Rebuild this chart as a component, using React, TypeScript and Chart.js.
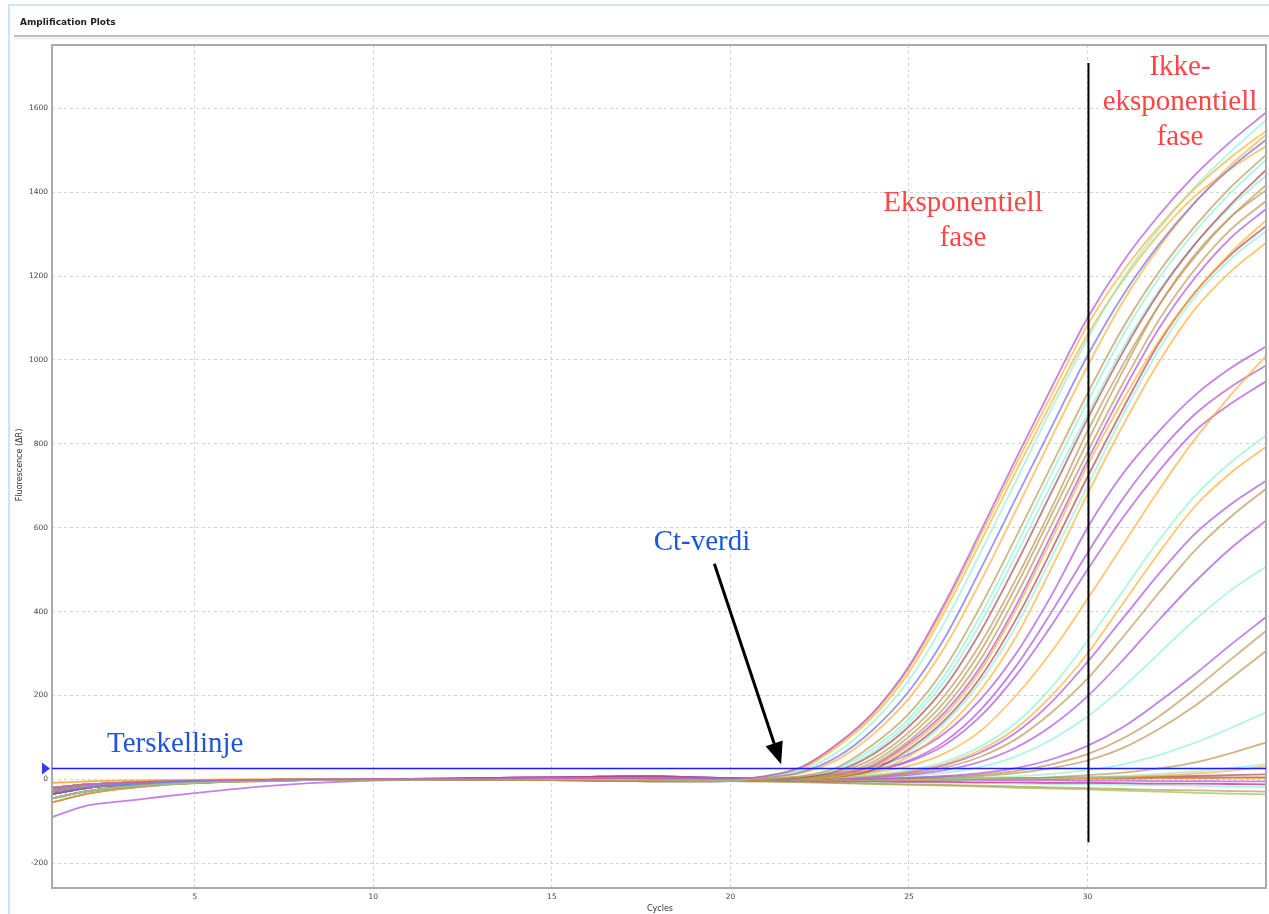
import React, { useEffect, useRef } from "react";
import { Chart, registerables } from "chart.js";

Chart.register(...registerables);

// ---------- data ----------
const cycles = [1, 2, 3, 4, 5, 6, 7, 8, 9, 10, 11, 12, 13, 14, 15, 16, 17, 18, 19, 20, 21, 22, 23, 24, 25, 26, 27, 28, 29, 30, 31, 32, 33, 34, 35];
const xTicks = [5, 10, 15, 20, 25, 30];
const yTicks = [-200, 0, 200, 400, 600, 800, 1000, 1200, 1400, 1600];
const threshold = 28;
const phaseLineCycle = 30;

// baselines, cycles 1-20
const baseA = [-30, -18, -12, -8, -5, -3, -2, -1, 0, 0, 0, 0, 1, 1, 2, 2, 2, 1, 1, 0];
const baseB = [-20, -12, -8, -5, -3, -2, -1, 0, 0, 1, 1, 1, 1, 2, 3, 3, 3, 2, 2, 1];
const baseC = [-45, -28, -18, -12, -8, -5, -3, -2, -1, 0, 0, 0, 0, 0, 1, 1, 0, 0, -1, -2];
const baseD = [-35, -20, -13, -9, -6, -4, -2, -1, 0, 0, 1, 2, 3, 4, 5, 6, 7, 7, 5, 3];
const baseE = [-90, -62, -52, -42, -33, -24, -16, -10, -6, -3, -1, 0, 0, 1, 1, 2, 2, 2, 1, 1];
const baseF = [-25, -15, -10, -6, -4, -2, -1, 0, 0, 0, 0, -1, -1, -2, -2, -3, -4, -5, -5, -4];
const baseG = [-8, -5, -3, -2, -1, 0, 0, 0, 0, 0, 1, 1, 1, 1, 1, 1, 1, 0, 0, 0];
const baseH = [-55, -34, -22, -14, -9, -6, -4, -2, -1, 0, 0, 0, 0, 0, 0, 0, -1, -2, -3, -4];

// amplification, cycles 21-35 — early group
const top01 = [8, 30, 85, 160, 270, 420, 590, 765, 935, 1100, 1235, 1345, 1440, 1520, 1590];
const top02 = [8, 29, 83, 157, 265, 412, 580, 752, 918, 1083, 1212, 1318, 1408, 1482, 1546];
const top03 = [6, 22, 65, 137, 237, 375, 540, 712, 885, 1050, 1195, 1312, 1412, 1496, 1572];
const top04 = [5, 18, 54, 119, 210, 337, 500, 671, 841, 1010, 1155, 1275, 1375, 1457, 1525];
const top05 = [4, 15, 47, 108, 193, 315, 471, 642, 816, 985, 1140, 1268, 1374, 1464, 1537];
const top06 = [2, 8, 29, 83, 157, 265, 412, 578, 750, 920, 1078, 1210, 1318, 1411, 1489];
const top07 = [2, 7, 26, 74, 145, 248, 390, 556, 730, 900, 1060, 1195, 1305, 1398, 1477];
const top08 = [1, 5, 20, 60, 126, 220, 352, 513, 686, 859, 1020, 1160, 1275, 1370, 1453];
const top09 = [1, 4, 16, 50, 112, 200, 323, 478, 648, 830, 990, 1130, 1245, 1340, 1417];
const top10 = [0, 3, 12, 42, 102, 185, 305, 460, 632, 805, 975, 1130, 1250, 1340, 1405];
const top11 = [0, 2, 10, 36, 92, 171, 285, 437, 608, 780, 945, 1095, 1215, 1310, 1379];
const top12 = [0, 2, 7, 28, 80, 152, 259, 405, 573, 748, 905, 1045, 1160, 1255, 1333];
const top13 = [0, 1, 6, 23, 72, 141, 243, 382, 548, 721, 885, 1040, 1160, 1250, 1319];
const top14 = [0, 1, 5, 20, 66, 135, 232, 366, 530, 700, 870, 1025, 1150, 1240, 1307];
const top15 = [0, 1, 5, 18, 55, 120, 212, 340, 505, 680, 845, 995, 1120, 1210, 1279];
const top16 = [7, 26, 78, 150, 255, 400, 565, 735, 900, 1060, 1190, 1300, 1390, 1455, 1510];
const top17 = [2, 6, 22, 66, 136, 235, 372, 535, 705, 870, 1030, 1165, 1275, 1365, 1440];
const top18 = [0, 2, 9, 32, 86, 160, 268, 415, 585, 760, 925, 1075, 1195, 1290, 1360];

// later group
const midA = [2, 6, 14, 30, 60, 110, 190, 300, 440, 600, 730, 830, 915, 980, 1032];
const midB = [1, 3, 8, 16, 32, 62, 115, 200, 305, 430, 560, 690, 810, 915, 1010];
const midC = [1, 4, 10, 22, 45, 90, 165, 270, 400, 540, 670, 780, 870, 935, 987];
const midD = [1, 3, 9, 20, 42, 82, 150, 248, 368, 500, 625, 735, 830, 895, 949];
const midE = [0, 2, 5, 11, 22, 42, 78, 135, 220, 330, 450, 570, 675, 755, 820];
const midF = [0, 1, 4, 9, 19, 37, 70, 122, 200, 300, 420, 540, 650, 730, 793];
const midG = [0, 1, 3, 8, 17, 34, 64, 112, 185, 280, 385, 490, 585, 655, 712];
const midH = [0, 1, 3, 7, 14, 28, 54, 96, 160, 240, 340, 445, 545, 625, 693];
const midI = [0, 0, 2, 5, 11, 22, 42, 76, 128, 198, 285, 380, 470, 550, 617];
const midJ = [0, 0, 1, 4, 8, 16, 30, 55, 95, 150, 220, 300, 380, 450, 507];
const midK = [0, 0, 1, 2, 4, 8, 15, 27, 48, 80, 125, 185, 250, 320, 387];
const midL = [0, 0, 0, 1, 3, 6, 11, 20, 36, 60, 98, 150, 215, 285, 354];
const midM = [0, 0, 0, 1, 2, 4, 8, 15, 27, 45, 75, 120, 175, 240, 306];
const midN = [0, 0, 0, 0, 1, 2, 4, 7, 13, 22, 36, 58, 87, 122, 160];
const midO = [-4, -4, -3, -3, -2, -1, 0, 2, 5, 10, 16, 26, 40, 62, 88];
const midP = [-1, -1, -1, 0, 0, 1, 1, 2, 3, 5, 8, 13, 19, 27, 36];
const midQ = [0, 0, 0, 0, 0, 0, 1, 1, 2, 3, 5, 9, 14, 21, 31];

// no amplification
const flatR = [0, 0, 1, 1, 2, 2, 3, 3, 4, 5, 6, 7, 8, 10, 12];
const flatS = [0, 0, 0, 0, 1, 1, 1, 2, 2, 3, 3, 4, 4, 5, 5];
const flatT = [0, 0, 0, 0, -1, -1, -1, -2, -2, -3, -3, -4, -4, -5, -5];
const flatU = [-4, -4, -5, -5, -6, -6, -7, -7, -8, -8, -9, -10, -10, -11, -12];
const flatV = [-5, -6, -8, -10, -12, -13, -15, -17, -19, -21, -23, -25, -26, -28, -29];
const flatW = [-5, -7, -9, -11, -13, -15, -17, -20, -22, -24, -27, -29, -32, -34, -36];
const flatX = [-1, -1, -1, 0, 0, 0, 0, 1, 1, 1, 1, 2, 2, 2, 3];
const flatY = [-4, -5, -5, -6, -7, -8, -9, -10, -11, -12, -13, -14, -15, -17, -18];

// ---------- styles ----------
const PURPLE = "rgba(172, 82, 225, 0.72)";
const AQUA = "rgba(110, 238, 200, 0.55)";
const ORANGE = "rgba(255, 172, 45, 0.68)";
const TAN = "rgba(188, 150, 82, 0.7)";
const RED = "rgba(182, 72, 88, 0.72)";
const BLUEP = "rgba(118, 118, 235, 0.75)";
const GREEN = "rgba(150, 195, 70, 0.7)";
const MAGENTA = "rgba(192, 30, 145, 0.72)";
const BROWN = "rgba(150, 95, 60, 0.7)";

const series = [
  [baseB, top01, PURPLE], [baseG, top02, ORANGE], [baseC, top03, AQUA], [baseA, top04, BLUEP],
  [baseB, top05, ORANGE], [baseH, top06, TAN], [baseA, top07, AQUA], [baseD, top08, RED],
  [baseA, top09, TAN], [baseC, top10, TAN], [baseB, top11, TAN], [baseG, top12, ORANGE],
  [baseC, top13, RED], [baseB, top14, AQUA], [baseH, top15, ORANGE], [baseA, top16, ORANGE],
  [baseB, top17, AQUA], [baseD, top18, PURPLE],
  [baseD, midA, PURPLE], [baseA, midB, ORANGE], [baseB, midC, PURPLE], [baseD, midD, PURPLE],
  [baseC, midE, AQUA], [baseA, midF, ORANGE], [baseB, midG, PURPLE], [baseC, midH, TAN],
  [baseD, midI, PURPLE], [baseA, midJ, AQUA], [baseB, midK, PURPLE], [baseC, midL, TAN],
  [baseA, midM, TAN], [baseB, midN, AQUA], [baseF, midO, TAN], [baseC, midP, AQUA], [baseA, midQ, ORANGE],
  [baseB, flatR, RED], [baseA, flatS, BROWN], [baseE, flatT, PURPLE], [baseF, flatU, MAGENTA],
  [baseH, flatV, TAN], [baseF, flatW, GREEN], [baseC, flatX, ORANGE], [baseF, flatY, AQUA],
] as const;

const W = 1269;
const H = 914;

const overlay = {
  id: "overlay",
  beforeDraw(chart: any) {
    const { ctx } = chart;
    ctx.save();
    ctx.fillStyle = "#ffffff";
    ctx.fillRect(0, 0, W, H);
    // light blue panel border
    ctx.strokeStyle = "#cfe2f6";
    ctx.lineWidth = 2;
    ctx.beginPath();
    ctx.moveTo(9, H);
    ctx.lineTo(9, 5);
    ctx.lineTo(W, 5);
    ctx.stroke();
    // title
    ctx.fillStyle = "#222";
    ctx.font = "bold 9px 'DejaVu Sans'";
    ctx.textBaseline = "middle";
    ctx.textAlign = "left";
    ctx.fillText("Amplification Plots", 20, 23);
    // separator
    ctx.strokeStyle = "#bdbdbd";
    ctx.lineWidth = 2;
    ctx.beginPath();
    ctx.moveTo(14, 36);
    ctx.lineTo(W, 36);
    ctx.stroke();
    ctx.strokeStyle = "#e4e4e4";
    ctx.lineWidth = 1;
    ctx.beginPath();
    ctx.moveTo(14, 38.5);
    ctx.lineTo(W, 38.5);
    ctx.stroke();
    // axis titles
    ctx.fillStyle = "#333";
    ctx.font = "8px 'DejaVu Sans'";
    ctx.textAlign = "center";
    ctx.fillText("Cycles", 660, 909);
    ctx.save();
    ctx.translate(20, 465);
    ctx.rotate(-Math.PI / 2);
    ctx.fillText("Fluorescence (\u0394R)", 0, 0);
    ctx.restore();
    ctx.restore();
  },
  afterDatasetsDraw(chart: any) {
    const { ctx, chartArea: a, scales } = chart;
    const x = scales.x;
    const y = scales.y;
    ctx.save();
    // frame
    ctx.strokeStyle = "#a9a9b0";
    ctx.lineWidth = 2;
    ctx.strokeRect(a.left, a.top, a.right - a.left, a.bottom - a.top);

    // threshold
    const ty = Math.round(y.getPixelForValue(threshold)) + 0.5;
    ctx.strokeStyle = "#1c1cff";
    ctx.lineWidth = 1.5;
    ctx.beginPath();
    ctx.moveTo(a.left, ty);
    ctx.lineTo(a.right, ty);
    ctx.stroke();
    ctx.fillStyle = "#3838ff";
    ctx.beginPath();
    ctx.moveTo(a.left - 10, ty - 6);
    ctx.lineTo(a.left - 2, ty);
    ctx.lineTo(a.left - 10, ty + 6);
    ctx.closePath();
    ctx.fill();

    // phase separator
    const vx = x.getPixelForValue(phaseLineCycle) + 1;
    ctx.strokeStyle = "#000";
    ctx.lineWidth = 2;
    ctx.beginPath();
    ctx.moveTo(vx, y.getPixelForValue(1708));
    ctx.lineTo(vx, y.getPixelForValue(-150));
    ctx.stroke();

    // arrow to Ct
    const x0 = x.getPixelForValue(19.55);
    const y0 = y.getPixelForValue(514);
    const x1 = x.getPixelForValue(21.42);
    const y1 = y.getPixelForValue(36);
    const ang = Math.atan2(y1 - y0, x1 - x0);
    const headLen = 22;
    const headW = 9;
    const bx = x1 - headLen * Math.cos(ang);
    const by = y1 - headLen * Math.sin(ang);
    ctx.strokeStyle = "#000";
    ctx.lineWidth = 3;
    ctx.beginPath();
    ctx.moveTo(x0, y0);
    ctx.lineTo(bx, by);
    ctx.stroke();
    ctx.fillStyle = "#000";
    ctx.beginPath();
    ctx.moveTo(x1, y1);
    ctx.lineTo(bx + headW * Math.sin(ang), by - headW * Math.cos(ang));
    ctx.lineTo(bx - headW * Math.sin(ang), by + headW * Math.cos(ang));
    ctx.closePath();
    ctx.fill();

    // annotations
    ctx.textAlign = "center";
    ctx.textBaseline = "middle";
    ctx.font = "29px 'Liberation Serif'";
    ctx.fillStyle = "#ff4545";
    ctx.fillText("Ikke-", 1180, 67);
    ctx.fillText("eksponentiell", 1180, 102);
    ctx.fillText("fase", 1180, 137);
    ctx.fillText("Eksponentiell", 963, 203);
    ctx.fillText("fase", 963, 238);
    ctx.fillStyle = "#1f55dd";
    ctx.fillText("Ct-verdi", 702, 542);
    ctx.textAlign = "left";
    ctx.fillText("Terskellinje", 107, 744);
    ctx.restore();
  },
};

export default function App() {
  const ref = useRef<HTMLCanvasElement | null>(null);

  useEffect(() => {
    if (!ref.current) return;
    const datasets = series.map(([base, tail, color]) => {
      const values = [...base, ...tail];
      return {
        data: cycles.map((c, i) => ({ x: c, y: values[i] })),
        borderColor: color,
        borderWidth: 1.8,
        pointRadius: 0,
        fill: false,
        cubicInterpolationMode: "monotone" as const,
      };
    });
    const tickFont = { size: 7.5, family: "'DejaVu Sans'" };
    const chart = new Chart(ref.current, {
      type: "line",
      data: { datasets },
      plugins: [overlay],
      options: {
        animation: false,
        responsive: false,
        events: [],
        layout: { padding: { left: 0, top: 45, right: 3, bottom: 0 } },
        plugins: { legend: { display: false }, tooltip: { enabled: false }, title: { display: false } },
        scales: {
          x: {
            type: "linear",
            min: 1,
            max: 35,
            afterBuildTicks: (s: any) => {
              s.ticks = xTicks.map((v) => ({ value: v }));
            },
            afterFit: (s: any) => {
              s.height = 26;
            },
            ticks: { font: tickFont, color: "#444", padding: 5, maxRotation: 0, autoSkip: false, callback: (v: any) => String(v) },
            grid: { color: "#d4d4d4", lineWidth: 1, drawTicks: false },
            border: { display: false, dash: [3, 3] },
          },
          y: {
            type: "linear",
            min: -259,
            max: 1751,
            afterBuildTicks: (s: any) => {
              s.ticks = yTicks.map((v) => ({ value: v }));
            },
            afterFit: (s: any) => {
              s.width = 52;
            },
            ticks: { font: tickFont, color: "#444", padding: 4, autoSkip: false, callback: (v: any) => String(v) },
            grid: { color: "#d4d4d4", lineWidth: 1, drawTicks: false },
            border: { display: false, dash: [3, 3] },
          },
        },
      },
    });
    return () => chart.destroy();
  }, []);

  return (
    <div style={{ position: "fixed", left: 0, top: 0, width: W, height: H, background: "#fff" }}>
      <canvas ref={ref} width={W} height={H} style={{ display: "block", width: W, height: H }} />
    </div>
  );
}
